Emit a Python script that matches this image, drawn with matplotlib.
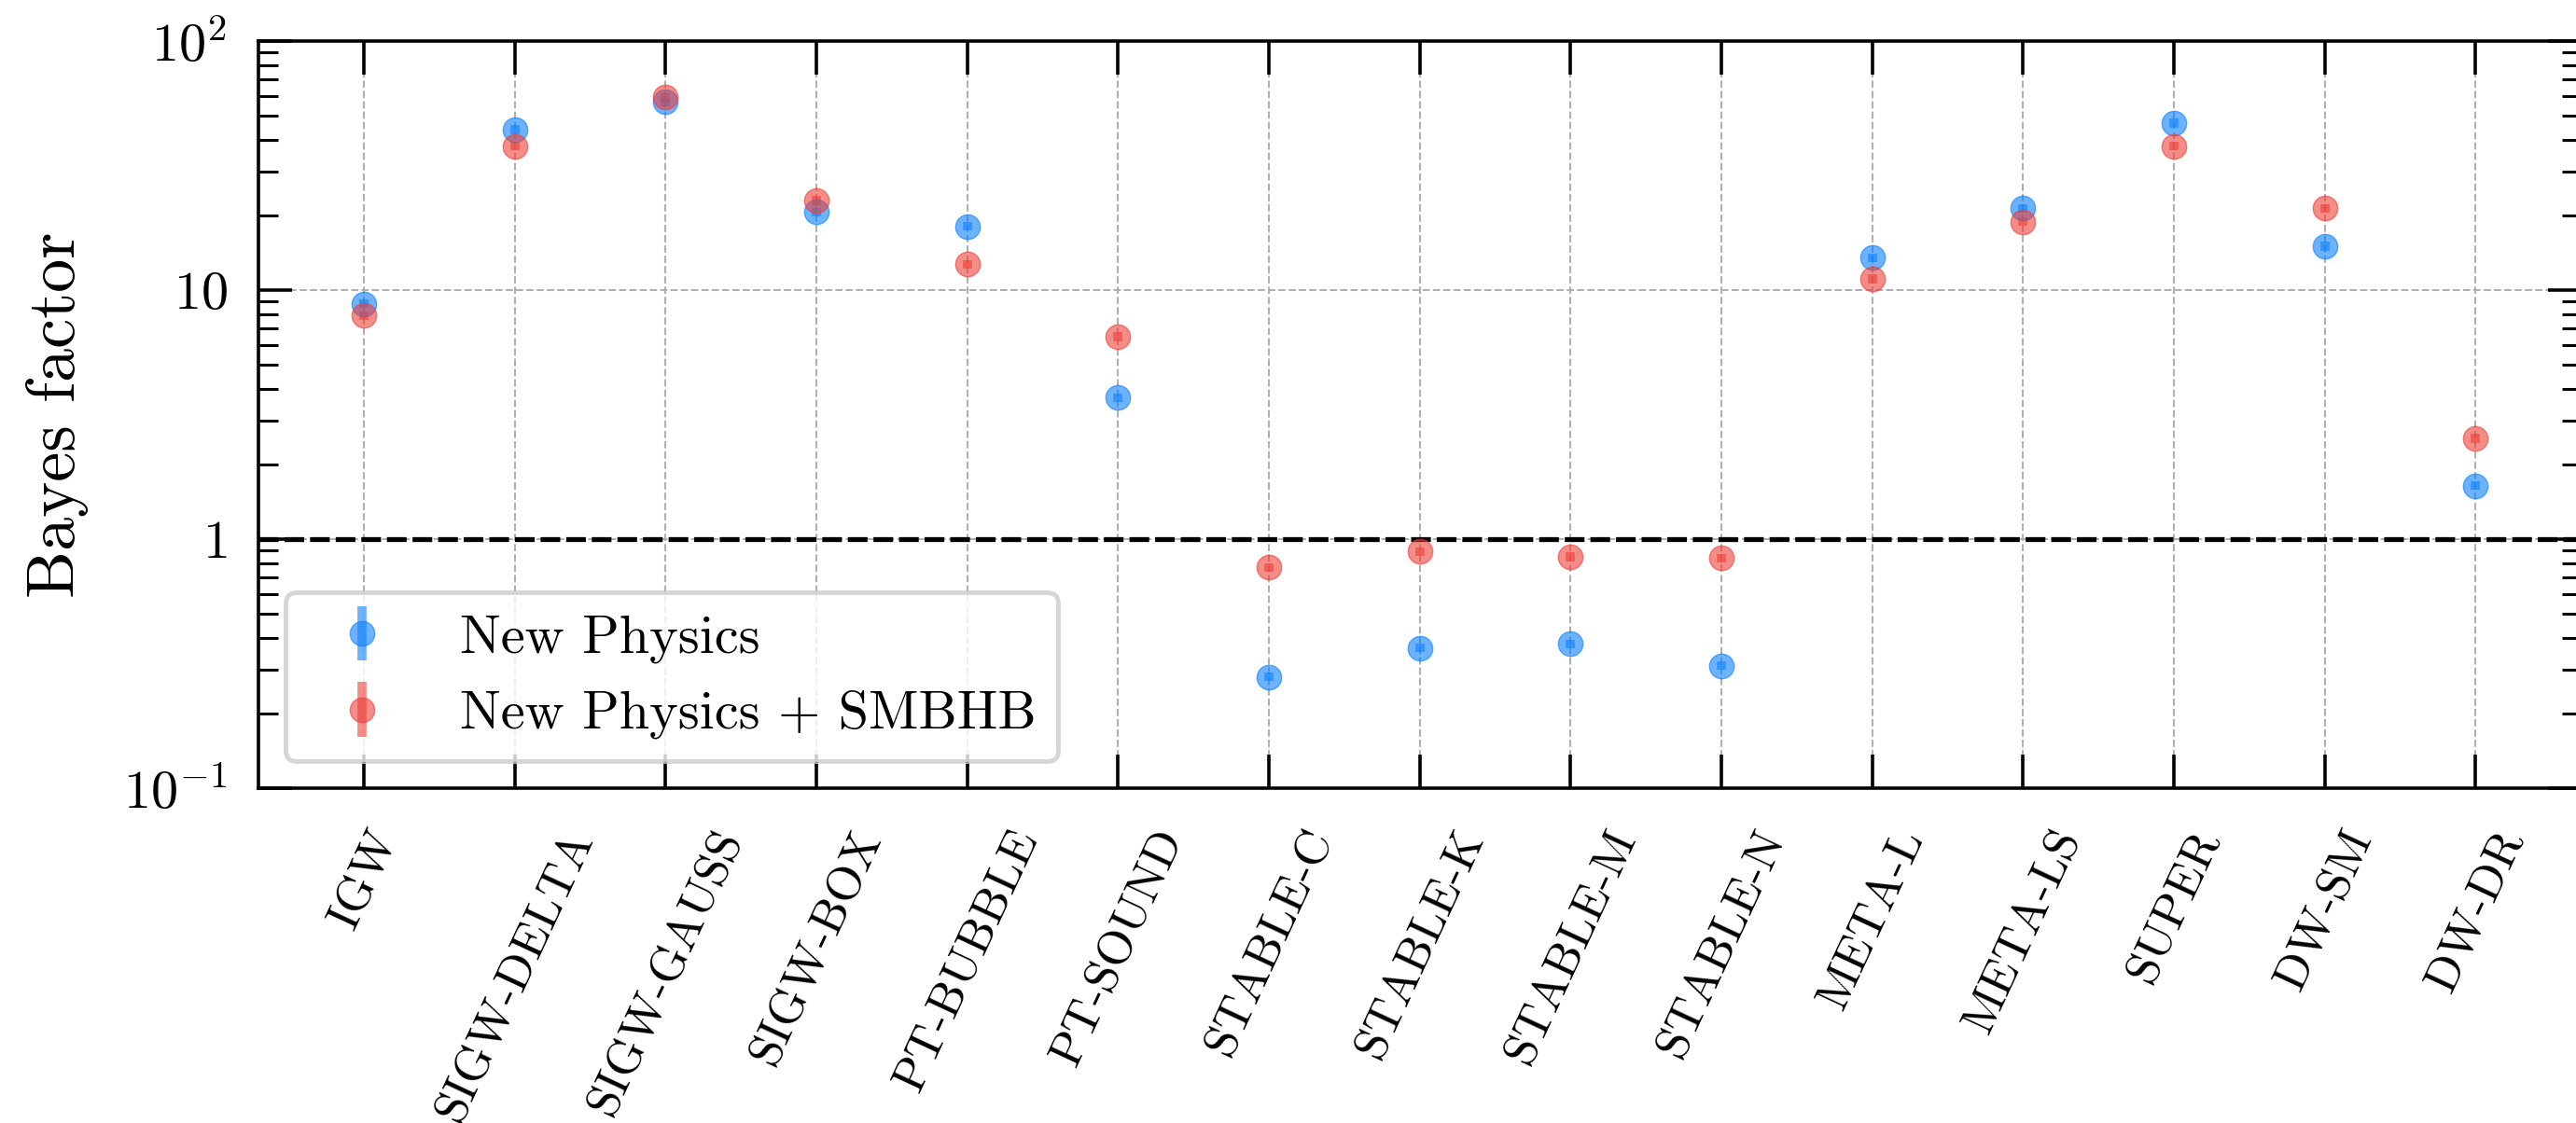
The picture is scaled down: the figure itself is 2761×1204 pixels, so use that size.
import numpy as np
import matplotlib
matplotlib.use("Agg")
import matplotlib.pyplot as plt

plt.rcParams['font.family'] = 'serif'
plt.rcParams['font.serif'] = ['cmr10']
plt.rcParams['mathtext.fontset'] = 'cm'
plt.rcParams['axes.unicode_minus'] = False
plt.rcParams['axes.formatter.use_mathtext'] = True

# models and Bayes factors
models = ['IGW', 'SIGW-DELTA', 'SIGW-GAUSS', 'SIGW-BOX', 'PT-BUBBLE', 'PT-SOUND',
          'STABLE-C', 'STABLE-K', 'STABLE-M', 'STABLE-N', 'META-L', 'META-LS',
          'SUPER', 'DW-SM', 'DW-DR']
bf_np = [8.8, 44.0, 57.0, 20.6, 18.0, 3.7, 0.28, 0.365, 0.38, 0.31, 13.5, 21.3, 46.8, 15.0, 1.64]
bf_np_err = [0.35, 1.8, 2.3, 0.8, 0.7, 0.15, 0.011, 0.014, 0.015, 0.012, 0.55, 0.85, 1.9, 0.6, 0.065]
bf_smbhb = [7.9, 37.8, 59.5, 22.9, 12.7, 6.5, 0.77, 0.89, 0.85, 0.84, 11.1, 18.8, 37.8, 21.3, 2.54]
bf_smbhb_err = [0.3, 1.5, 2.4, 0.9, 0.5, 0.26, 0.03, 0.035, 0.034, 0.034, 0.45, 0.75, 1.5, 0.85, 0.1]

ytick_vals = [0.1, 1, 10, 100]
ytick_labels = [r'$10^{-1}$', r'$1$', r'$10$', r'$10^{2}$']

blue = '#0a80ff'
red = '#ee3f37'

fig = plt.figure(figsize=(27.61, 12.04), dpi=100)
ax = fig.add_axes([0.1003, 0.2982, 0.9017, 0.6653])

x = np.arange(len(models))
ax.errorbar(x, bf_np, yerr=bf_np_err, fmt='o', color=blue, ms=19, elinewidth=7,
            capsize=0, alpha=0.6, label='New Physics', zorder=3)
ax.errorbar(x, bf_smbhb, yerr=bf_smbhb_err, fmt='o', color=red, ms=19, elinewidth=7,
            capsize=0, alpha=0.6, label='New Physics + SMBHB', zorder=3)

ax.axhline(1, color='black', lw=3.8, ls=(0, (4, 1.2)), zorder=2)

ax.set_yscale('log')
ax.set_ylim(0.1, 100)
ax.set_xlim(-0.7, 14.7)
ax.set_yticks(ytick_vals)
ax.set_yticklabels(ytick_labels)
ax.set_xticks(x)
ax.set_xticklabels(models, rotation=65, ha='center', fontsize=37)

ax.grid(True, which='major', ls='--', color='#b0b0b0', lw=1.5, zorder=0)

ax.tick_params(which='both', direction='in', top=True, right=True)
ax.tick_params(which='major', length=26, width=2.6, labelsize=42)
ax.tick_params(axis='y', which='major', pad=24)
ax.tick_params(axis='x', which='major', pad=27, labelsize=37)
ax.tick_params(which='minor', length=15, width=2.2)
for sp in ax.spines.values():
    sp.set_linewidth(2.6)

ax.set_ylabel('Bayes factor', fontsize=52)
ax.yaxis.set_label_coords(-0.073, 0.5)

leg = ax.legend(loc='lower left', fontsize=42, fancybox=True, framealpha=0.8)
leg.get_frame().set_edgecolor('#cccccc')
leg.get_frame().set_linewidth(3.5)

fig.savefig('out.png', dpi=100)
